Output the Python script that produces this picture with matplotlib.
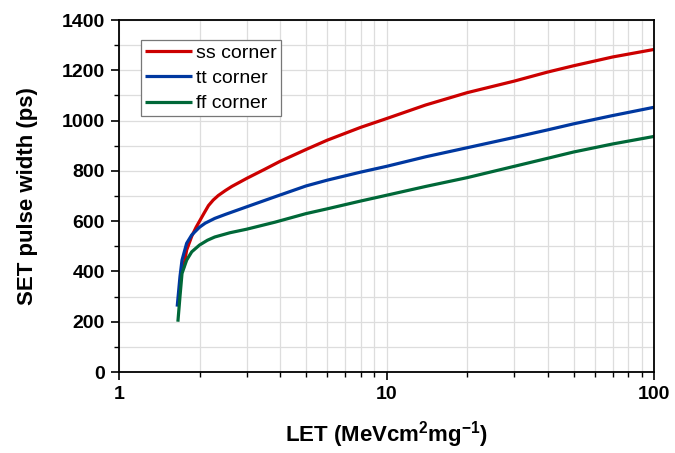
"""
SET pulse width vs LET for the three process corners.
"""

import matplotlib
matplotlib.use("Agg")
import matplotlib.pyplot as plt
from matplotlib.ticker import FixedLocator, FixedFormatter, MultipleLocator, LogLocator, NullFormatter

# values
ss_let = [1.74, 1.79, 1.87, 1.94, 2.0, 2.08, 2.16, 2.25, 2.35, 2.5, 2.64, 3.0, 3.5, 4.0,
	5, 6, 8, 10, 14, 20, 30, 40, 50, 70, 100]
ss_width = [412, 485, 540, 575, 600, 632, 662, 684, 702, 722, 738, 770, 806, 838,
	885, 922, 973, 1008, 1062, 1111, 1157, 1193, 1218, 1253, 1283]

tt_let = [1.65, 1.69, 1.72, 1.79, 1.87, 2.0, 2.1, 2.28, 2.5, 3.0, 3.83,
	5, 6, 8, 10, 14, 20, 30, 40, 50, 70, 100]
tt_width = [260, 379, 445, 512, 545, 576, 592, 611, 627, 657, 697,
	740, 763, 795, 818, 856, 892, 933, 963, 987, 1020, 1053]

ff_let = [1.66, 1.69, 1.72, 1.79, 1.87, 2.0, 2.14, 2.28, 2.6, 3.0, 3.83,
	5, 6, 8, 10, 14, 20, 30, 40, 50, 70, 100]
ff_width = [200, 300, 392, 445, 478, 505, 524, 537, 554, 568, 596,
	630, 649, 680, 703, 738, 773, 818, 850, 875, 907, 937]

series = [
	("ss corner", ss_let, ss_width, "#cc0000"),
	("tt corner", tt_let, tt_width, "#0038a0"),
	("ff corner", ff_let, ff_width, "#006838"),
]

plt.rcParams['font.family'] = ['Liberation Sans', 'DejaVu Sans']
plt.rcParams['mathtext.fontset'] = 'custom'
plt.rcParams['mathtext.rm'] = 'Liberation Sans'
plt.rcParams['mathtext.bf'] = 'Liberation Sans:bold'

fig = plt.figure(figsize=(6.75, 4.53), dpi=100)
ax = fig.add_axes([0.1763, 0.1788, 0.7927, 0.777])

for name, x, y, c in series:
	ax.plot(x, y, color=c, lw=2.3, label=name, solid_capstyle='butt', solid_joinstyle='round')

ax.set_xscale("log")
ax.set_xlim(1, 100)
ax.set_ylim(0, 1400)

# ticks
ax.xaxis.set_major_locator(FixedLocator([1, 10, 100]))
ax.xaxis.set_major_formatter(FixedFormatter(["1", "10", "100"]))
ax.xaxis.set_minor_locator(LogLocator(base=10, subs=range(2, 10)))
ax.xaxis.set_minor_formatter(NullFormatter())
ax.yaxis.set_major_locator(MultipleLocator(200))
ax.yaxis.set_minor_locator(MultipleLocator(100))

ax.tick_params(which='major', direction='out', length=6, width=1.2, labelsize=14, pad=4)
ax.tick_params(which='minor', direction='out', length=3.5, width=1)
for lab in ax.get_xticklabels() + ax.get_yticklabels():
	lab.set_fontweight('bold')

ax.grid(which='both', color='#dddddd', lw=0.9)
ax.set_axisbelow(True)
for s in ax.spines.values():
	s.set_linewidth(1.3)

ax.set_xlabel(r"LET (MeVcm$^{\mathbf{2}}$mg$^{\mathbf{-1}}$)", fontsize=16, fontweight='bold', labelpad=12)
ax.set_ylabel("SET pulse width (ps)", fontsize=16, fontweight='bold', labelpad=17)

leg = ax.legend(loc='upper left', bbox_to_anchor=(0.041, 0.943), borderaxespad=0,
	fontsize=14, fancybox=False, edgecolor='#777777', framealpha=1,
	handlelength=2.45, handletextpad=0.2, labelspacing=0.4, borderpad=0.2)
leg.get_frame().set_linewidth(0.9)

fig.savefig("out.png", dpi=100)
